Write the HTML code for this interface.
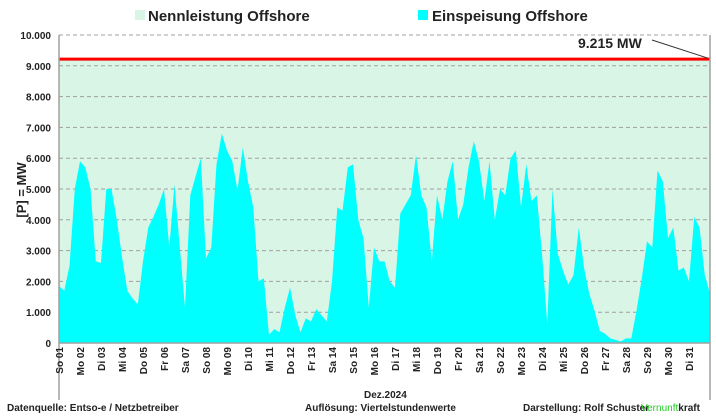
<!DOCTYPE html>
<html><head><meta charset="utf-8"><style>
body{margin:0;background:#fff;font-family:"Liberation Sans",sans-serif}
svg text{font-family:"Liberation Sans",sans-serif}
</style></head><body>
<svg id="c" width="716" height="414" viewBox="0 0 716 414" xmlns="http://www.w3.org/2000/svg">
<rect x="0" y="0" width="716" height="414" fill="#fff"/>
<g>
<rect x="135" y="10" width="10" height="10" fill="#d9f5e6"/>
<text x="148" y="21" font-size="15" font-weight="bold" fill="#222">Nennleistung Offshore</text>
<rect x="418" y="10" width="10" height="10" fill="#00ffff"/>
<text x="432" y="21" font-size="15" font-weight="bold" fill="#222">Einspeisung Offshore</text>
</g>
<g id="plot"></g>
<text transform="translate(26,190) rotate(-90)" text-anchor="middle" font-size="13" font-weight="bold" fill="#222">[P] = MW</text>
<text x="364" y="398" font-size="10" font-weight="bold" fill="#222">Dez.2024</text>
<g font-size="10" font-weight="bold" fill="#222">
<text x="7" y="411">Datenquelle:  Entso-e  / Netzbetreiber</text>
<text x="305" y="411">Auflösung: Viertelstundenwerte</text>
<text x="523" y="411">Darstellung:  Rolf Schuster</text>
<text x="641" y="411"><tspan fill="#22cc22" font-weight="normal">Vernunft</tspan>kraft</text>
</g>
</svg>
<script>
const yTicks=[0,1000,2000,3000,4000,5000,6000,7000,8000,9000,10000];
const yTickLabels=["0","1.000","2.000","3.000","4.000","5.000","6.000","7.000","8.000","9.000","10.000"];
const dayLabels=["So 01","Mo 02","Di 03","Mi 04","Do 05","Fr 06","Sa 07","So 08","Mo 09","Di 10","Mi 11","Do 12","Fr 13","Sa 14","So 15","Mo 16","Di 17","Mi 18","Do 19","Fr 20","Sa 21","So 22","Mo 23","Di 24","Mi 25","Do 26","Fr 27","Sa 28","So 29","Mo 30","Di 31"];
const capacity=9215;
const capacityLabel="9.215 MW";
const feedIn=[1850,1700,2500,5000,5900,5700,5000,2650,2600,5000,5000,4000,2800,1700,1450,1250,2650,3750,4100,4500,5000,3100,5150,3100,1150,4800,5400,6000,2750,3100,5800,6800,6250,5900,4950,6350,5250,4400,2000,2100,270,450,350,1150,1800,900,350,800,700,1100,900,700,2000,4400,4300,5700,5800,4000,3400,1150,3100,2650,2650,2000,1800,4200,4500,4800,6100,4800,4400,2650,4800,4000,5250,5900,4000,4500,5700,6550,5900,4600,5900,4000,5000,4800,6000,6250,4400,5800,4600,4800,2900,600,5000,2900,2350,1900,2200,3750,2450,1600,1050,400,300,150,100,50,150,150,1050,2100,3300,3100,5600,5250,3400,3750,2350,2450,2000,4100,3750,2200,1600];
const X0=59,X1=710,Y0=343,YT=35,VMAX=10000;
const NS="http://www.w3.org/2000/svg";
const g=document.getElementById('plot');
function yS(v){return Y0-(v/VMAX)*(Y0-YT);}
function xS(i){return X0+i*(X1-X0)/(feedIn.length-1);}
function xD(d){return X0+d*(X1-X0)/dayLabels.length;}
function mk(t,a){const e=document.createElementNS(NS,t);for(const k in a)e.setAttribute(k,a[k]);g.appendChild(e);return e;}
let e=mk('rect',{x:X0,y:yS(0)-(yS(0)-yS(capacity)),width:X1-X0,height:yS(0)-yS(capacity),fill:'#d9f5e6'});


yTicks.forEach((v,i)=>{
 if(v>0){const l=mk('line',{x1:X0,x2:X1,y1:yS(v),y2:yS(v),stroke:'#a0a0a0','stroke-dasharray':'4,3','stroke-width':1});
 
 }
 const t=mk('text',{x:51,y:yS(v)+4,'text-anchor':'end','font-size':10,'font-weight':'bold',fill:'#222'});
 t.textContent=yTickLabels[i];
 
 
});
let d='M'+X0+','+Y0;
feedIn.forEach((v,i)=>{d+=' L'+xS(i).toFixed(1)+','+yS(v).toFixed(1);});
d+=' L'+X1+','+Y0+' Z';
e=mk('path',{d:d,fill:'#00ffff'});


e=mk('line',{x1:X0,x2:X1,y1:yS(capacity),y2:yS(capacity),stroke:'#ff0000','stroke-width':3});


e=mk('line',{x1:652,y1:40,x2:X1-2,y2:yS(capacity)-1,stroke:'#333','stroke-width':1});


e=mk('text',{x:578,y:48,'font-size':14,'font-weight':'bold',fill:'#222'});
e.textContent=capacityLabel;


e=mk('line',{x1:X0,x2:X0,y1:YT,y2:400,stroke:'#a0a0a0','stroke-width':1.5});


e=mk('line',{x1:X1,x2:X1,y1:YT,y2:400,stroke:'#a0a0a0','stroke-width':1.5});


e=mk('line',{x1:X0,x2:X1,y1:Y0,y2:Y0,stroke:'#a0a0a0','stroke-width':1.5});


dayLabels.forEach((s,i)=>{
 const x=xD(i)+4;
 const t=mk('text',{transform:'translate('+x.toFixed(1)+',347) rotate(-90)','text-anchor':'end','font-size':10,'font-weight':'bold',fill:'#222'});
 t.textContent=s;
 
 
});
</script>
</body></html>
